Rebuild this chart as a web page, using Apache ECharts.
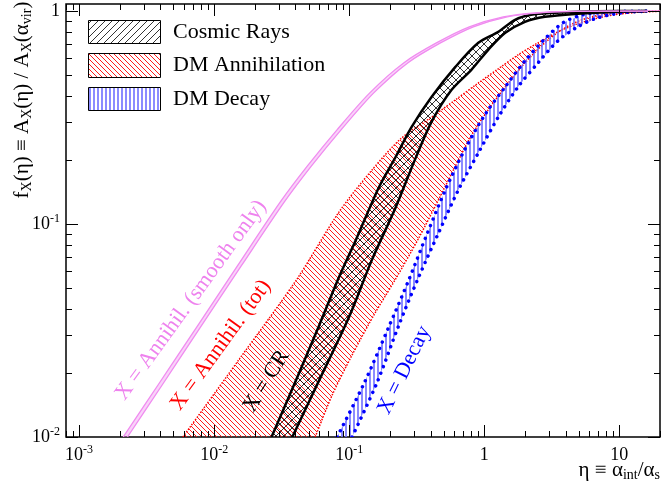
<!DOCTYPE html>
<html>
<head>
<meta charset="utf-8">
<script src="https://cdn.jsdelivr.net/npm/echarts@6/dist/echarts.min.js"></script>
<style>
html,body{margin:0;padding:0;background:#fff}
#main{width:663px;height:485px}
</style>
</head>
<body>
<div id="main"></div>
<script>
var serif = '"Liberation Serif","DejaVu Serif",serif';
var xRange = [8e-4, 20];
var yRange = [0.01, 1.08];

// X = Annihil. (smooth only): two close lines
var pinkA = [[2.12e-3,0.01],[3.83e-3,0.0175],[7.6e-3,0.0335],[0.0150,0.0641],[0.0309,0.127],[0.0489,0.187],[0.0812,0.277],[0.142,0.413],[0.253,0.571],[0.442,0.709],[0.775,0.844],[1.38,0.94],[2.42,0.982],[4.75,0.997],[9.4,1.0],[20,1.0]];
var pinkB = [[2.28e-3,0.01],[4.11e-3,0.0175],[8.1e-3,0.0335],[0.0160,0.0641],[0.0331,0.127],[0.0524,0.187],[0.087,0.277],[0.152,0.413],[0.271,0.571],[0.474,0.709],[0.83,0.844],[1.48,0.94],[2.59,0.982],[5.1,0.997],[10,1.0],[20,1.0]];

// Cosmic rays band
var crUpper = [[0.0266,0.01],[0.0427,0.0201],[0.060,0.0335],[0.0841,0.0564],[0.112,0.0842],[0.166,0.149],[0.221,0.207],[0.290,0.286],[0.407,0.395],[0.611,0.547],[0.904,0.710],[1.27,0.799],[1.69,0.910],[2.22,0.961],[3.33,0.982],[4.92,0.993],[9.7,1.0],[16,1.0]];
var crLower = [[0.0379,0.01],[0.060,0.0185],[0.0997,0.0366],[0.147,0.0677],[0.221,0.120],[0.310,0.204],[0.407,0.302],[0.571,0.426],[0.802,0.530],[1.07,0.658],[1.43,0.791],[2.00,0.891],[2.81,0.940],[4.92,0.971],[9.7,0.993],[16,1.0]];

// DM annihilation band
var annUpper = [[5.87e-3,0.01],[0.0155,0.0234],[0.0406,0.0546],[0.0841,0.114],[0.147,0.179],[0.245,0.254],[0.407,0.318],[0.611,0.383],[0.904,0.460],[1.27,0.536],[1.78,0.623],[2.50,0.710],[3.51,0.799],[4.92,0.872],[8.18,0.950],[13.6,0.987],[20,0.998]];
var annLower = [[0.0560,0.01],[0.0747,0.0157],[0.103,0.0237],[0.152,0.0373],[0.225,0.0564],[0.327,0.0859],[0.458,0.130],[0.611,0.187],[0.802,0.260],[1.07,0.344],[1.43,0.441],[2.00,0.571],[2.81,0.710],[3.95,0.835],[5.83,0.930],[9.7,0.982],[16.1,0.997],[20,1.0]];

// DM decay band
var decUpper = [[0.0813,0.01],[0.129,0.0179],[0.196,0.0328],[0.276,0.0546],[0.374,0.0888],[0.516,0.145],[0.725,0.227],[1.02,0.329],[1.43,0.441],[2.00,0.584],[2.81,0.741],[3.82,0.881],[5.36,0.961],[8.9,0.993],[16.1,1.0]];
var decLower = [[0.105,0.01],[0.160,0.0179],[0.233,0.0335],[0.327,0.0564],[0.458,0.0907],[0.644,0.145],[0.904,0.216],[1.27,0.318],[1.78,0.441],[2.50,0.571],[3.51,0.725],[4.92,0.844],[6.91,0.930],[10.6,0.982],[16.1,1.0]];

// in-plot labels: text, x, y, angle (deg), colour
var notes = [
	['X = Annihil. (smooth only)', 6.73e-3, 0.0439, 54, '#ee82ee'],
	['X = Annihil. (tot)', 0.0112, 0.0270, 54, '#ff0000'],
	['X = CR', 0.0244, 0.0183, 58, '#000000'],
	['X = Decay', 0.256, 0.0206, 64, '#0000ff']
];
var legendNames = ['Cosmic Rays', 'DM Annihilation', 'DM Decay'];

function hatch(size, color, width, kinds) {
	var c = document.createElement('canvas');
	c.width = size; c.height = size;
	var ctx = c.getContext('2d');
	ctx.strokeStyle = color; ctx.lineWidth = width;
	ctx.beginPath();
	kinds.forEach(function (k) {
		if (k === '\\') {
			ctx.moveTo(-1, -1); ctx.lineTo(size + 1, size + 1);
			ctx.moveTo(-1, size - 1); ctx.lineTo(1, size + 1);
			ctx.moveTo(size - 1, -1); ctx.lineTo(size + 1, 1);
		}
		if (k === '/') {
			ctx.moveTo(-1, size + 1); ctx.lineTo(size + 1, -1);
			ctx.moveTo(-1, 1); ctx.lineTo(1, -1);
			ctx.moveTo(size - 1, size + 1); ctx.lineTo(size + 1, size - 1);
		}
		if (k === '|') {
			ctx.moveTo(size / 2, 0); ctx.lineTo(size / 2, size);
		}
	});
	ctx.stroke();
	return { image: c, repeat: 'repeat' };
}

var redFill = hatch(5, '#ff0000', 0.9, ['\\']);
var crossFill = hatch(8, '#000000', 0.8, ['\\', '/']);
var crFill = hatch(7, '#000000', 0.8, ['/']);
var blueFill = hatch(4, '#6f6fff', 1.6, ['|']);

function band(upper, lower, fill, edge) {
	return function (params, api) {
		var a = upper.map(function (p) { return api.coord(p); });
		var b = lower.map(function (p) { return api.coord(p); });
		var poly = a.concat(b.slice().reverse());
		return {
			type: 'group',
			children: [
				{ type: 'polygon', shape: { points: poly }, style: { fill: fill, stroke: null } },
				{ type: 'polyline', shape: { points: a, smooth: 0.3 }, style: Object.assign({ fill: null }, edge) },
				{ type: 'polyline', shape: { points: b, smooth: 0.3 }, style: Object.assign({ fill: null }, edge) }
			]
		};
	};
}

function ticks(params, api) {
	var bl = api.coord([xRange[0], yRange[0]]);
	var tr = api.coord([xRange[1], yRange[1]]);
	var out = [];
	var st = { stroke: '#000', lineWidth: 1 };
	for (var k = -4; k <= 1; k++) {
		for (var m = 1; m <= 9; m++) {
			var v = m * Math.pow(10, k);
			if (v < xRange[0] || v > xRange[1]) continue;
			var px = Math.round(api.coord([v, yRange[0]])[0]) + 0.5;
			var len = m === 1 ? 12 : 6;
			out.push({ type: 'line', shape: { x1: px, y1: bl[1], x2: px, y2: bl[1] - len }, style: st });
			out.push({ type: 'line', shape: { x1: px, y1: tr[1], x2: px, y2: tr[1] + len }, style: st });
		}
	}
	for (var k = -2; k <= 0; k++) {
		for (var m = 1; m <= 9; m++) {
			var v = m * Math.pow(10, k);
			if (v < yRange[0] || v > yRange[1]) continue;
			var py = Math.round(api.coord([xRange[0], v])[1]) + 0.5;
			var len = m === 1 ? 12 : 6;
			out.push({ type: 'line', shape: { x1: bl[0], y1: py, x2: bl[0] + len, y2: py }, style: st });
			out.push({ type: 'line', shape: { x1: tr[0], y1: py, x2: tr[0] - len, y2: py }, style: st });
		}
	}
	return { type: 'group', children: out };
}

function labels(params, api) {
	return {
		type: 'group',
		children: notes.map(function (n) {
			var p = api.coord([n[1], n[2]]);
			return {
				type: 'text', x: p[0], y: p[1], rotation: n[3] * Math.PI / 180,
				style: { text: n[0], fill: n[4], fontSize: 22, fontFamily: serif, align: 'center', verticalAlign: 'middle' }
			};
		})
	};
}

function powLabel(v) {
	var e = Math.log10(v);
	var r = Math.round(e);
	if (Math.abs(e - r) > 1e-6) return '';
	if (r === 0) return '{b|1}';
	if (r === 1) return '{b|10}';
	return '{b|10}{s|' + r + '}';
}
var powRich = {
	b: { fontSize: 18, fontFamily: serif, color: '#000', lineHeight: 22 },
	s: { fontSize: 12, fontFamily: serif, color: '#000', verticalAlign: 'top', lineHeight: 14 }
};

var subRich = {
	m: { fontSize: 21, fontFamily: serif, fill: '#000', lineHeight: 24 },
	sub: { fontSize: 14, fontFamily: serif, fill: '#000', verticalAlign: 'bottom', lineHeight: 14 }
};

var myChart = echarts.init(document.getElementById('main'));
var option = {
	animation: false,
	textStyle: { fontFamily: serif },
	grid: { left: 66, right: 2, top: 4, bottom: 48, show: true, borderColor: '#000', borderWidth: 1.5, backgroundColor: 'transparent' },
	xAxis: {
		type: 'log', logBase: 10, min: xRange[0], max: xRange[1],
		axisLine: { show: false }, axisTick: { show: false }, splitLine: { show: false },
		axisLabel: { interval: 0, margin: 7, formatter: powLabel, rich: powRich }
	},
	yAxis: {
		type: 'log', logBase: 10, min: yRange[0], max: yRange[1],
		axisLine: { show: false }, axisTick: { show: false }, splitLine: { show: false },
		axisLabel: { interval: 0, margin: 6, formatter: powLabel, rich: powRich }
	},
	graphic: [
		{ type: 'text', x: 22, y: 100, rotation: Math.PI / 2,
			style: { text: '{m|f}{sub|X}{m|(η) ≡ A}{sub|X}{m|(η) / A}{sub|X}{m|(α}{sub|vir}{m|)}', rich: subRich, align: 'center', verticalAlign: 'middle' } },
		{ type: 'text', x: 660, y: 470,
			style: { text: '{m|η ≡ α}{sub|int}{m|/α}{sub|s}', rich: subRich, align: 'right', verticalAlign: 'middle' } },
		{ type: 'rect', shape: { x: 88.5, y: 20.5, width: 72, height: 23 }, style: { fill: crFill, stroke: '#000', lineWidth: 1 } },
		{ type: 'rect', shape: { x: 88.5, y: 53.5, width: 72, height: 24 }, style: { fill: redFill, stroke: '#000', lineWidth: 1 } },
		{ type: 'rect', shape: { x: 88.5, y: 87.5, width: 72, height: 23 }, style: { fill: blueFill, stroke: '#000', lineWidth: 1 } },
		{ type: 'text', x: 173, y: 32, style: { text: legendNames[0], fontSize: 22, fontFamily: serif, fill: '#000', verticalAlign: 'middle' } },
		{ type: 'text', x: 173, y: 65, style: { text: legendNames[1], fontSize: 22, fontFamily: serif, fill: '#000', verticalAlign: 'middle' } },
		{ type: 'text', x: 173, y: 99, style: { text: legendNames[2], fontSize: 22, fontFamily: serif, fill: '#000', verticalAlign: 'middle' } }
	],
	series: [
		{ type: 'custom', clip: true, data: [[1, 0.1]], z: 2,
			renderItem: band(annUpper, annLower, redFill, { stroke: '#ff0000', lineWidth: 1.5, lineDash: [1.5, 1.5] }) },
		{ type: 'custom', clip: true, data: [[1, 0.1]], z: 3,
			renderItem: band(decUpper, decLower, blueFill, { stroke: '#0000ff', lineWidth: 3.5, lineDash: [0.01, 7], lineCap: 'round' }) },
		{ type: 'custom', clip: true, data: [[1, 0.1]], z: 4,
			renderItem: band(crUpper, crLower, crossFill, { stroke: '#000', lineWidth: 2.5 }) },
		{ type: 'custom', clip: true, data: [[1, 0.1]], z: 5,
			renderItem: band(pinkA, pinkB, 'rgba(238,130,238,0.35)', { stroke: '#f08cf0', lineWidth: 1.3 }) },
		{ type: 'custom', clip: false, data: [[1, 0.1]], z: 6, renderItem: labels },
		{ type: 'custom', clip: false, data: [[1, 0.1]], z: 7, renderItem: ticks }
	]
};
myChart.setOption(option);
</script>
</body>
</html>
